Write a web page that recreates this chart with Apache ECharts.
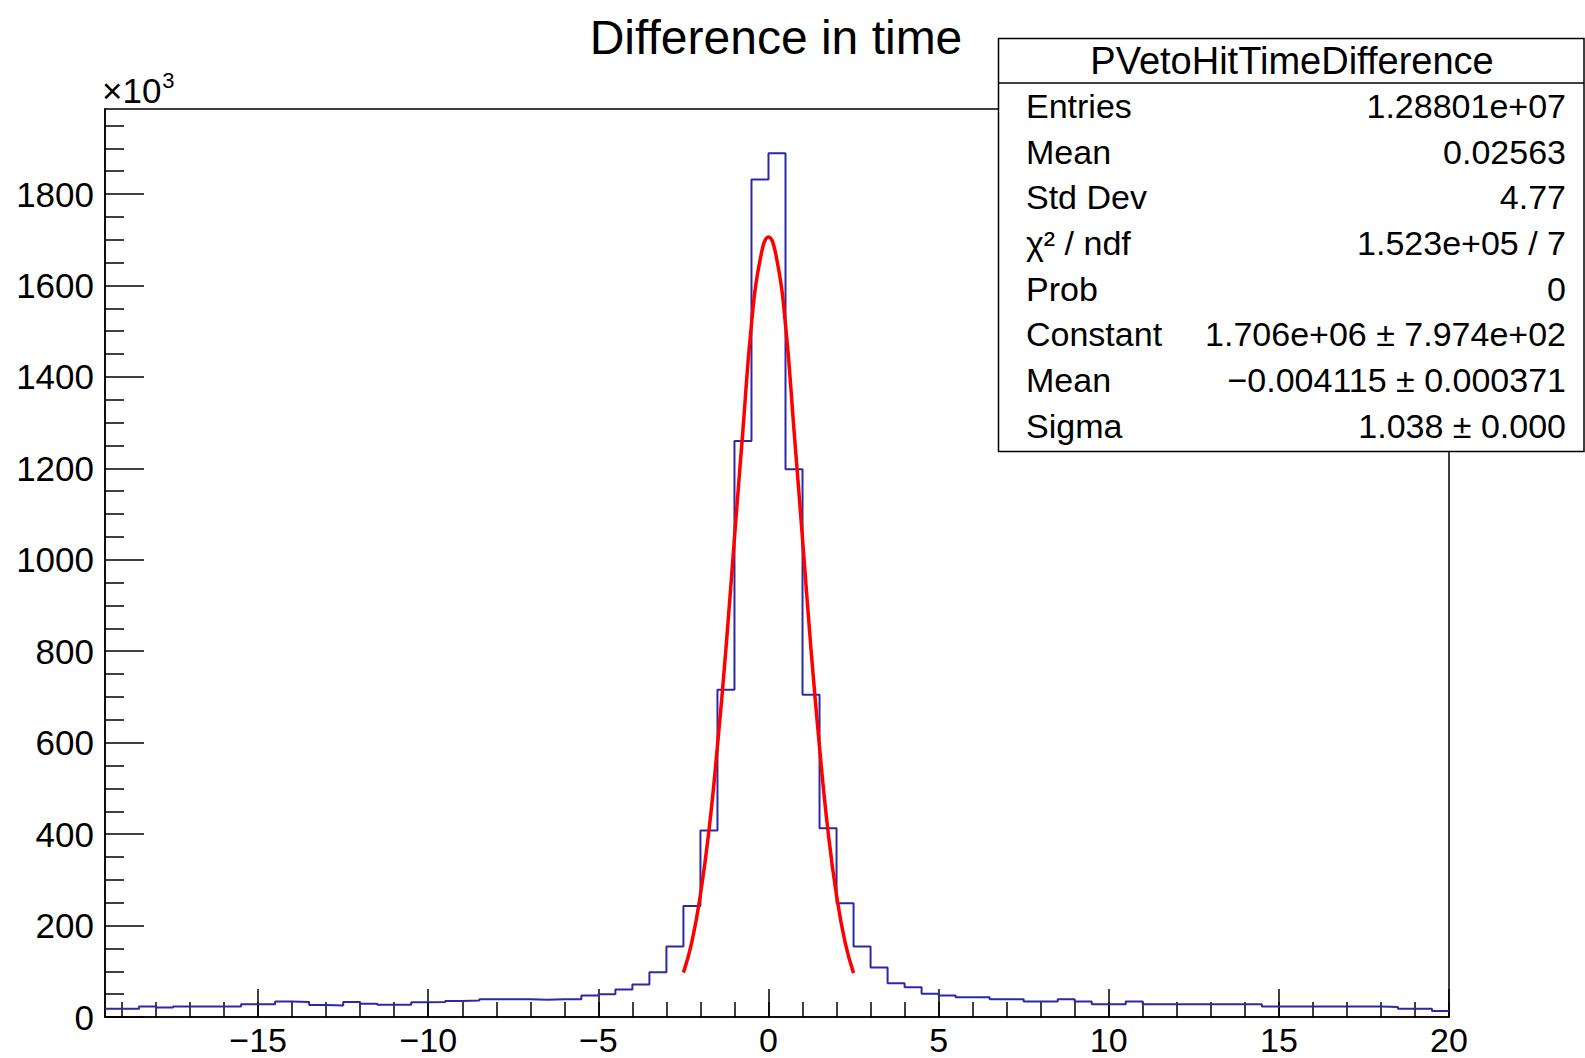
<!DOCTYPE html>
<html>
<head>
<meta charset="utf-8">
<script src="https://cdn.jsdelivr.net/npm/echarts@6/dist/echarts.min.js"></script>
<style>
html,body{margin:0;padding:0;background:#fff;}
#c{width:1585px;height:1058px;}
</style>
</head>
<body>
<div id="c"></div>
<script>
// ---------------- DATA (y values in units of 10^3) ----------------
const binEdges = [
  -19.5,-19,-18.5,-18,-17.5,-17,-16.5,-16,-15.5,-15,-14.5,-14,-13.5,-13,-12.5,-12,-11.5,-11,-10.5,-10,
  -9.5,-9,-8.5,-8,-7.5,-7,-6.5,-6,-5.5,-5,-4.5,-4,-3.5,-3,-2.5,-2,-1.5,-1,-0.5,0,
  0.5,1,1.5,2,2.5,3,3.5,4,4.5,5,5.5,6,6.5,7,7.5,8,8.5,9,9.5,10,
  10.5,11,11.5,12,12.5,13,13.5,14,14.5,15,15.5,16,16.5,17,17.5,18,18.5,19,19.5,20
];
const binCounts = [
  18,18,23,21,23,23,23,23,28,28,34,33,26,25,33,29,27,27,32,33,
  35,36,39,39,39,38,39,39,47,50,60,71,98,154,243,408,716,1260,1832,1889,
  1198,705,413,249,154,108,74,65,51,47,43,43,39,39,34,34,39,34,28,28,
  34,28,28,28,28,28,28,28,23,23,23,23,23,23,23,22,18,18,13
];
const fitX = [-2.5,-2.25,-2,-1.75,-1.5,-1.25,-1,-0.75,-0.5,-0.25,0,0.25,0.5,0.75,1,1.25,1.5,1.75,2,2.25,2.5];
const fitY = [97,165,268,408,593,806,1048,1285,1516,1655,1706,1655,1514,1283,1046,804,590,406,266,164,96];

const xMajorTicks = [-15,-10,-5,0,5,10,15,20];
const xMinorTicks = [-19,-18,-17,-16,-15,-14,-13,-12,-11,-10,-9,-8,-7,-6,-5,-4,-3,-2,-1,0,1,2,3,4,5,6,7,8,9,10,11,12,13,14,15,16,17,18,19,20];
const yMajorTicks = [0,200,400,600,800,1000,1200,1400,1600,1800];
const yMinorTicks = [50,100,150,250,300,350,450,500,550,650,700,750,850,900,950,1050,1100,1150,1250,1300,1350,1450,1500,1550,1650,1700,1750,1850,1900,1950];

const titleText = 'Difference in time';
const statsTitle = 'PVetoHitTimeDifference';
const statsLabels = ['Entries','Mean','Std Dev','χ² / ndf','Prob','Constant','Mean','Sigma'];
const statsValues = ['1.28801e+07','0.02563','4.77','1.523e+05 / 7','0','1.706e+06 ± 7.974e+02','−0.004115 ± 0.000371','1.038 ± 0.000'];

// ---------------- CHART ----------------
const FONT = '"Liberation Sans", Arial, Helvetica, sans-serif';
const chart = echarts.init(document.getElementById('c'), null, {renderer: 'svg'});

const histData = binEdges.map((e, i) => [e, binCounts[Math.min(i, binCounts.length - 1)]]);
const fitData = fitX.map((x, i) => [x, fitY[i]]);

const xMin = binEdges[0], xMax = binEdges[binEdges.length - 1];
const yMax = 1986;

const fmtX = v => (v < 0 ? '\u2212' + Math.abs(v) : String(v));
const fmtY = v => String(v);

const statsGraphics = [];
const boxL = 998.5, boxT = 38.5, boxR = 1584, boxB = 451.5;
statsGraphics.push({
  type: 'rect', z: 100,
  shape: {x: boxL, y: boxT, width: boxR - boxL, height: boxB - boxT},
  style: {fill: '#fff', stroke: '#000', lineWidth: 1.5}
});
statsGraphics.push({
  type: 'line', z: 101,
  shape: {x1: boxL, y1: 83, x2: boxR, y2: 83},
  style: {stroke: '#000', lineWidth: 1.5}
});
statsGraphics.push({
  type: 'text', z: 102, x: 1292, y: 61,
  style: {text: statsTitle, fontSize: 38, fontFamily: FONT, fill: '#000', align: 'center', verticalAlign: 'middle'}
});
const rowTop = 106, rowStep = 45.66;
statsLabels.forEach((lab, i) => {
  const y = rowTop + i * rowStep;
  statsGraphics.push({
    type: 'text', z: 102, x: 1026, y: y,
    style: {text: lab, fontSize: 34, fontFamily: FONT, fill: '#000', align: 'left', verticalAlign: 'middle'}
  });
  statsGraphics.push({
    type: 'text', z: 102, x: 1566, y: y,
    style: {text: statsValues[i], fontSize: 34, fontFamily: FONT, fill: '#000', align: 'right', verticalAlign: 'middle'}
  });
});

const option = {
  backgroundColor: '#fff',
  animation: false,
  grid: {left: 105, right: 136, top: 109, bottom: 41, show: true, borderColor: '#000', borderWidth: 1.5, backgroundColor: 'transparent'},
  xAxis: [
    {
      type: 'value', min: xMin, max: xMax, position: 'bottom',
      axisLine: {show: true, onZero: false, lineStyle: {color: '#000', width: 1.5}},
      axisTick: {show: true, inside: true, length: 28, customValues: xMajorTicks, lineStyle: {color: '#000', width: 1.5}},
      axisLabel: {show: true, customValues: xMajorTicks, formatter: fmtX, margin: 6, fontSize: 34, lineHeight: 34, fontFamily: FONT, color: '#000'},
      splitLine: {show: false}
    },
    {
      type: 'value', min: xMin, max: xMax, position: 'bottom',
      axisLine: {show: false, onZero: false},
      axisTick: {show: true, inside: true, length: 15, customValues: xMinorTicks, lineStyle: {color: '#000', width: 1.5}},
      axisLabel: {show: false},
      splitLine: {show: false}
    }
  ],
  yAxis: [
    {
      type: 'value', min: 0, max: yMax, position: 'left',
      axisLine: {show: true, onZero: false, lineStyle: {color: '#000', width: 1.5}},
      axisTick: {show: true, inside: true, length: 39, customValues: yMajorTicks, lineStyle: {color: '#000', width: 1.5}},
      axisLabel: {show: true, customValues: yMajorTicks, formatter: fmtY, margin: 11, fontSize: 35, fontFamily: FONT, color: '#000'},
      splitLine: {show: false}
    },
    {
      type: 'value', min: 0, max: yMax, position: 'left', offset: 0,
      axisLine: {show: false, onZero: false},
      axisTick: {show: true, inside: true, length: 19, customValues: yMinorTicks, lineStyle: {color: '#000', width: 1.5}},
      axisLabel: {show: false},
      splitLine: {show: false}
    }
  ],
  graphic: [
    {
      type: 'text', x: 776, y: 37,
      style: {text: titleText, fontSize: 48, fontFamily: FONT, fill: '#000', align: 'center', verticalAlign: 'middle'}
    },
    {
      type: 'text', x: 102, y: 108,
      style: {
        text: '{b|×10}{s|3}', fill: '#000', align: 'left', verticalAlign: 'bottom',
        rich: {
          b: {fontSize: 35, fontFamily: FONT, fill: '#000', verticalAlign: 'bottom'},
          s: {fontSize: 22, fontFamily: FONT, fill: '#000', padding: [0, 0, 17, 1], verticalAlign: 'bottom'}
        }
      }
    }
  ].concat(statsGraphics),
  series: [
    {
      name: 'PVetoHitTimeDifference', type: 'line', xAxisIndex: 0, yAxisIndex: 0,
      data: histData, step: 'end', showSymbol: false, symbol: 'none', clip: true,
      lineStyle: {color: '#2a2aa6', width: 2}, z: 3
    },
    {
      name: 'gaus', type: 'line', xAxisIndex: 0, yAxisIndex: 0,
      data: fitData, smooth: true, showSymbol: false, symbol: 'none', clip: true,
      lineStyle: {color: '#ff0000', width: 3.5}, z: 4
    }
  ]
};
chart.setOption(option);
</script>
</body>
</html>
